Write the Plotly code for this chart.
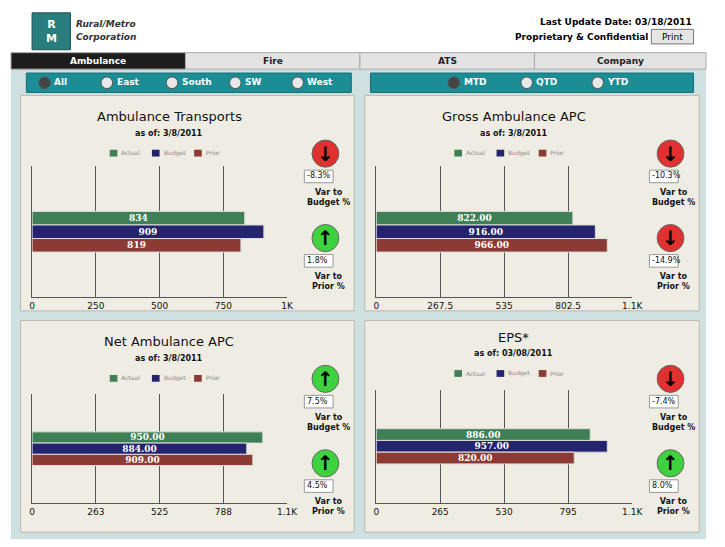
import plotly.graph_objects as go

W, H = 725, 547
FONT = "DejaVu Sans"

series = ["Actual", "Budget", "Prior"]
colors = ["#3f7f55", "#24246e", "#8c3b34"]

titles = ["Ambulance Transports", "Gross Ambulance APC", "Net Ambulance APC", "EPS*"]
asof = ["as of: 3/8/2011", "as of: 3/8/2011", "as of: 3/8/2011", "as of: 03/08/2011"]
values = [[834, 909, 819], [822, 916, 966], [950, 884, 909], [886, 957, 820]]
labels = [["834", "909", "819"], ["822.00", "916.00", "966.00"],
          ["950.00", "884.00", "909.00"], ["886.00", "957.00", "820.00"]]
xmax = [1000, 1070, 1050, 1060]
tickvals = [[0, 250, 500, 750, 1000], [0, 267.5, 535, 802.5, 1070],
            [0, 263, 525, 788, 1050], [0, 265, 530, 795, 1060]]
ticktext = [["0", "250", "500", "750", "1K"], ["0", "267.5", "535", "802.5", "1.1K"],
            ["0", "263", "525", "788", "1.1K"], ["0", "265", "530", "795", "1.1K"]]
var_budget = ["-8.3%", "-10.3%", "7.5%", "-7.4%"]
var_prior = ["1.8%", "-14.9%", "4.5%", "8.0%"]

tabs = ["Ambulance", "Fire", "ATS", "Company"]
regions = ["All", "East", "South", "SW", "West"]
periods = ["MTD", "QTD", "YTD"]

def X(p):
    return p / W

def Y(p):
    return 1 - p / H

fig = go.Figure()
shapes, ann = [], []

def rect(x0, y0, x1, y1, fill, line="rgba(0,0,0,0)", lw=0, kind="rect"):
    shapes.append(dict(type=kind, xref="paper", yref="paper", x0=X(x0), x1=X(x1),
                       y0=Y(y1), y1=Y(y0), fillcolor=fill, line=dict(color=line, width=lw),
                       layer="below"))

def text(x, y, t, size=10, color="#000", bold=False, xanchor="center"):
    ann.append(dict(xref="paper", yref="paper", x=X(x), y=Y(y), text=f"<b>{t}</b>" if bold else t,
                    showarrow=False, xanchor=xanchor, yanchor="middle",
                    font=dict(size=size, color=color, family=FONT)))

# background
rect(0, 62, 725, 547, "#cfe0e0")
# header
rect(22, 5, 62, 43, "#2a7d7d", "#1b4f4f", 1)
text(42, 24, "R<br>M", 11, "white", True)
text(66, 16, "<i>Rural/Metro</i>", 9, "#333", True, "left")
text(66, 30, "<i>Corporation</i>", 9, "#333", True, "left")
text(712, 14, "Last Update Date: 03/18/2011", 9, "#000", True, "right")
text(667, 30, "Proprietary & Confidential", 9, "#000", True, "right")
rect(668, 22, 712, 37, "#e6e6e6", "#777", 1)
text(690, 30, "Print", 9)
# tabs
tabx = [0, 182, 364, 546, 725]
for i, t in enumerate(tabs):
    rect(tabx[i], 46, tabx[i + 1], 63, "#1d1d1d" if i == 0 else "#e3e3e3", "#aaa", 1)
    text((tabx[i] + tabx[i + 1]) / 2, 55, t, 9, "white" if i == 0 else "#222", True)
# radio bars
rect(16, 67, 355, 87, "#1c8c95", "#137078", 1)
rect(375, 67, 712, 87, "#1c8c95", "#137078", 1)
for i, r in enumerate(regions):
    cx = [35, 100, 168, 234, 299][i]
    rect(cx - 6, 71, cx + 6, 83, "#444" if i == 0 else "#e8e8e8", "#555", 1, "circle")
    text(cx + 8, 76, r, 9, "white", True, "left")
for i, p in enumerate(periods):
    cx = [462, 538, 612][i]
    rect(cx - 6, 71, cx + 6, 83, "#444" if i == 0 else "#e8e8e8", "#555", 1, "circle")
    text(cx + 8, 76, p, 9, "white", True, "left")

panels = [(10, 90, 358, 312), (369, 90, 718, 312), (10, 322, 358, 540), (369, 322, 718, 540)]
plots = [(22, 163, 288, 298), (381, 163, 648, 298), (22, 398, 288, 510), (381, 393, 648, 510)]

for k in range(4):
    px0, py0, px1, py1 = panels[k]
    rect(px0, py0, px1, py1, "#efede3", "#b9b9b0", 1)
    ax0, ay0, ax1, ay1 = plots[k]
    tx = (ax0 + ax1) / 2 + 10
    off = 0 if k < 2 else 232 + (0 if k == 2 else -5)
    text(tx, 112 + off, titles[k], 13, "#111")
    text(tx, 129 + off, asof[k], 8, "#111", True)
    for j, s in enumerate(series):
        lx = tx - 58 + j * 44
        rect(lx - 4, 146 + off, lx + 4, 153 + off, colors[j])
        text(lx + 6, 149 + off, s, 6, "#888", xanchor="left")
    xa = "x" if k == 0 else f"x{k+1}"
    ya = "y" if k == 0 else f"y{k+1}"
    for j, s in enumerate(series):
        fig.add_trace(go.Bar(x=[values[k][j]], y=[""], orientation="h", name=s,
                             marker=dict(color=colors[j], line=dict(color="#ddd", width=1)),
                             text=[f"<b>{labels[k][j]}</b>"], textposition="inside",
                             insidetextanchor="middle", constraintext="none",
                             textfont=dict(color="white", size=9, family="DejaVu Serif"),
                             xaxis=xa, yaxis=ya, showlegend=False))
    lay = {}
    lay["xaxis" if k == 0 else f"xaxis{k+1}"] = dict(
        domain=[X(ax0), X(ax1)], range=[0, xmax[k]], anchor=ya, tickvals=tickvals[k],
        ticktext=ticktext[k], showgrid=True, gridcolor="#555", gridwidth=1, zeroline=False,
        showline=True, linecolor="#555", mirror=False, tickfont=dict(size=9, family=FONT, color="#111"))
    lay["yaxis" if k == 0 else f"yaxis{k+1}"] = dict(
        domain=[Y(ay1), Y(ay0)], anchor=xa, showticklabels=False, autorange="reversed",
        showgrid=False, showline=True, linecolor="#555")
    fig.update_layout(**lay)
    # indicators
    cx = px1 - 30
    for n, (v, lab) in enumerate([(var_budget[k], "Var to<br>Budget %"), (var_prior[k], "Var to<br>Prior %")]):
        cy = py0 + 60 + n * 87
        up = not v.startswith("-")
        rect(cx - 14, cy - 14, cx + 14, cy + 14, "#3fd23f" if up else "#e03030", "#666", 1, "circle")
        text(cx, cy, "<b>↑</b>" if up else "<b>↓</b>", 20, "#000")
        rect(cx - 22, cy + 17, cx + 8, cy + 30, "white", "#999", 1)
        text(cx - 21, cy + 23, v, 8, "#111", xanchor="left")
        text(cx + 3, cy + 45, lab, 8, "#111", True)

fig.update_layout(width=W - 16, height=H - 16, margin=dict(l=0, r=0, t=0, b=0),
                  paper_bgcolor="white", plot_bgcolor="#efede3",
                  barmode="group", bargap=0.69, bargroupgap=0,
                  shapes=shapes, annotations=ann)
fig.write_html("out.html")
